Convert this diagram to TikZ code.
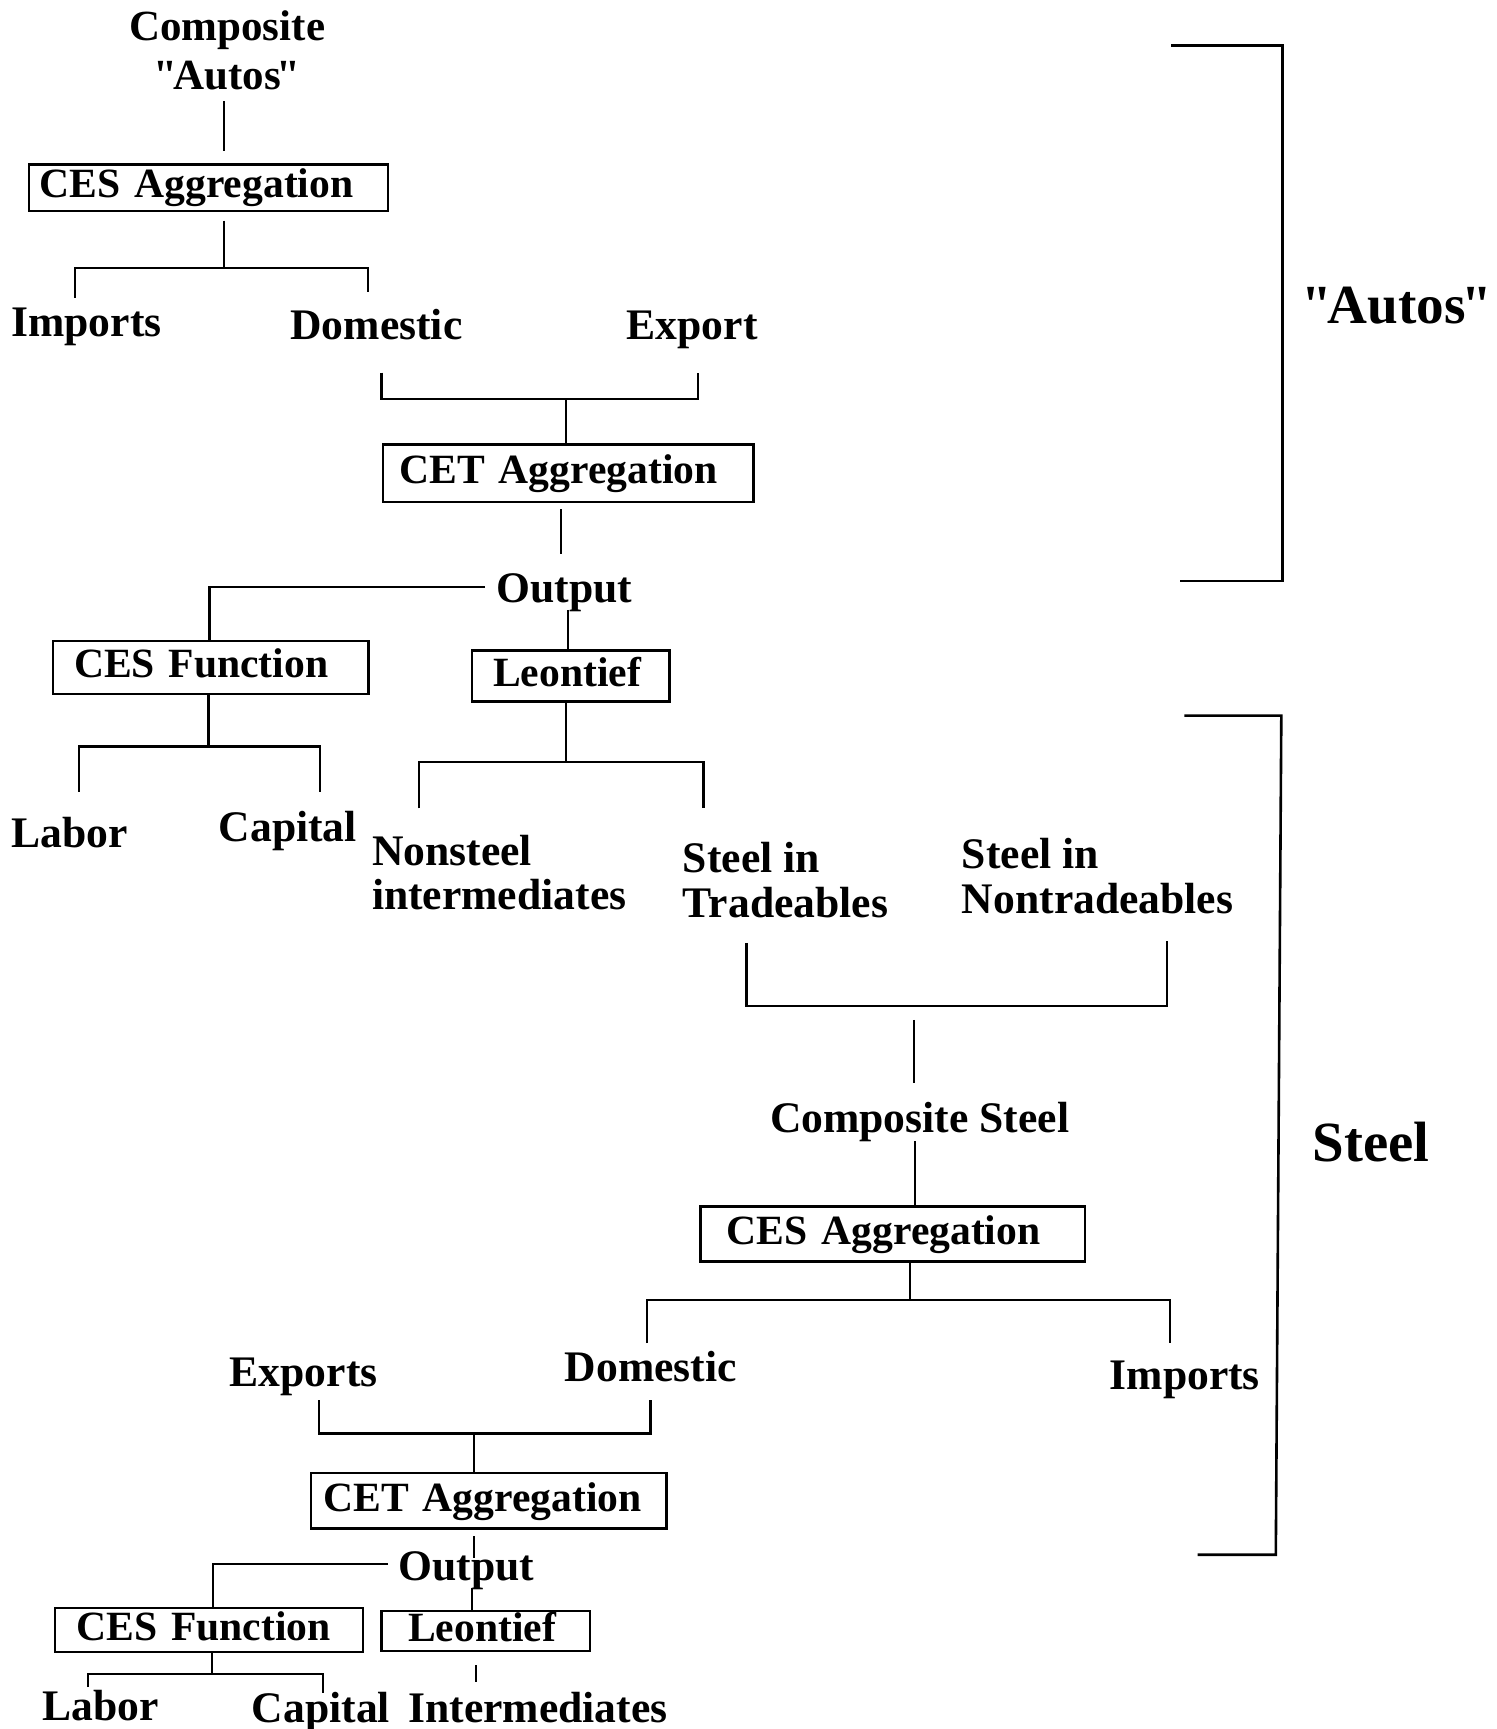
\documentclass[tikz,border=0pt]{standalone}
\usepackage{fontspec}
\setmainfont{Liberation Serif}[Ligatures=TeXOff]
\newcommand{\sq}{\char34\relax}
\begin{document}
\begin{tikzpicture}[x=0.5512pt,y=-0.5512pt,
  txt/.style={inner sep=0pt, font=\fontsize{21.8}{22}\selectfont\bfseries},
  box/.style={draw, line width=1.2pt, inner ysep=0pt, text height=14.2pt, text depth=3.9pt,
    align=left, anchor=north west, font=\fontsize{20.8}{22}\selectfont\bfseries},
  conn/.style={line width=1.1pt},
  big/.style={inner sep=0pt, font=\fontsize{28.4}{30}\selectfont\bfseries}]
\useasboundingbox (0,0) rectangle (1357,1568);

% ---------- text nodes ----------
\node[txt, anchor=north, align=center, font=\fontsize{21.5}{24.8}\selectfont\bfseries] (compA) at (206,9) {Composite\\\sq\kern-.1em Autos\kern-.1em\sq};
\node[txt, anchor=base west] (impA) at (10,305) {Imports};
\node[txt, anchor=base west] (domA) at (263,308) {Domestic};
\node[txt, anchor=base west] (expA) at (568,308) {Export};
\node[txt, anchor=base west] (outA) at (450,546) {Output};
\node[txt, anchor=base west] (labA) at (10,769) {Labor};
\node[txt, anchor=base west] (capA) at (198,763) {Capital};
\node[txt, anchor=north west, align=left] (nonst) at (337,757) {Nonsteel\\intermediates};
\node[txt, anchor=north west, align=left, font=\fontsize{21.8}{22.6}\selectfont\bfseries] (sttr) at (619,763) {Steel in\\Tradeables};
\node[txt, anchor=north west, align=left, font=\fontsize{21.8}{22.6}\selectfont\bfseries] (stnt) at (872,760) {Steel in\\Nontradeables};
\node[txt, anchor=base west] (compS) at (698,1027) {Composite Steel};
\node[txt, anchor=base west] (expS) at (208,1257) {Exports};
\node[txt, anchor=base west] (domS) at (512,1253) {Domestic};
\node[txt, anchor=base west] (impS) at (1006,1260) {Imports};
\node[txt, anchor=base west] (outS) at (361,1433) {Output};
\node[txt, anchor=base west] (labS) at (38,1560) {Labor};
\node[txt, anchor=base west] (capS) at (228,1562) {Capital};
\node[txt, anchor=base west] (intS) at (370,1562) {Intermediates};
\node[big, anchor=base west, font=\fontsize{27.6}{30}\selectfont\bfseries] (autosL) at (1180,293) {\sq\kern-.08em Autos\kern-.08em\sq};
\node[big, anchor=base west] (steelL) at (1190,1053) {Steel};

% ---------- boxes ----------
\node[box, minimum width=179.7pt, minimum height=23.15pt, inner xsep=5.5pt, text width=168.7pt] (cesA) at (25,148) {CES Aggregation};
\node[box, minimum width=185.2pt, minimum height=28.7pt, inner xsep=8.3pt, text width=168.7pt] (cetA) at (346,402) {CET Aggregation};
\node[box, minimum width=157.6pt, minimum height=26.5pt, inner xsep=10.5pt, text width=136.7pt] (cesF) at (47,580) {CES Function};
\node[box, minimum width=98.7pt, minimum height=25.4pt, inner xsep=10.5pt, text width=77.7pt] (leo) at (427,589) {Leontief};
\node[box, minimum width=192.4pt, minimum height=27.6pt, inner xsep=13.2pt, text width=165.9pt] (cesS) at (634,1093) {CES Aggregation};
\node[box, minimum width=177.5pt, minimum height=27.6pt, inner xsep=6.1pt, text width=165.4pt] (cetS) at (281,1335) {CET Aggregation};
\node[box, minimum width=153.8pt, minimum height=22.0pt, inner xsep=10.5pt, text width=132.8pt] (cesF2) at (49,1457) {CES Function};
\node[box, minimum width=104.2pt, minimum height=19.8pt, inner xsep=13.2pt, text width=77.7pt] (leo2) at (345,1460) {Leontief};

% ---------- connector coordinates ----------
\coordinate (a1) at (203,92);  \coordinate (a2) at (203,137);
\coordinate (b1) at (203,200); \coordinate (b2) at (203,243);
\coordinate (b3) at (68,270);  \coordinate (b4) at (68,243);
\coordinate (b5) at (334,243); \coordinate (b6) at (334,265);
\coordinate (c1) at (346,338); \coordinate (c2) at (346,362);
\coordinate (c3) at (633,362); \coordinate (c4) at (633,338);
\coordinate (c5) at (513,362);
\coordinate (d1) at (509,462); \coordinate (d2) at (509,502);
\coordinate (e1) at (440,532); \coordinate (e2) at (190,532);
\coordinate (f1) at (515,553);
\coordinate (g2) at (189,677);
\coordinate (g3) at (72,718);  \coordinate (g4) at (72,677);
\coordinate (g5) at (290,677); \coordinate (g6) at (290,718);
\coordinate (h2) at (513,691);
\coordinate (h3) at (380,733); \coordinate (h4) at (380,691);
\coordinate (h5) at (638,691); \coordinate (h6) at (638,733);
\coordinate (i1) at (677,855); \coordinate (i2) at (677,912);
\coordinate (i3) at (1058,912); \coordinate (i4) at (1058,853);
\coordinate (j1) at (829,925); \coordinate (j2) at (829,982);
\coordinate (k1) at (830,1035);
\coordinate (l2) at (825,1179);
\coordinate (l3) at (587,1218); \coordinate (l4) at (587,1179);
\coordinate (l5) at (1061,1179); \coordinate (l6) at (1061,1218);
\coordinate (m1) at (289,1270); \coordinate (m2) at (289,1300);
\coordinate (m3) at (590,1300); \coordinate (m4) at (590,1270);
\coordinate (m5) at (430,1300);
\coordinate (n1) at (430,1393); \coordinate (n2) at (430,1413);
\coordinate (o1) at (352,1418); \coordinate (o2) at (193,1418);
\coordinate (p1) at (428,1440);
\coordinate (q2) at (192,1518);
\coordinate (q3) at (80,1530); \coordinate (q4) at (80,1518);
\coordinate (q5) at (293,1518); \coordinate (q6) at (293,1535);
\coordinate (r1) at (432,1510); \coordinate (r2) at (432,1525);
\coordinate (s1) at (1062,41);  \coordinate (s2) at (1163,41);
\coordinate (s3) at (1163,527); \coordinate (s4) at (1070,527);
\coordinate (t1) at (1074,649); \coordinate (t2) at (1162,649);
\coordinate (t3) at (1157,1410); \coordinate (t4) at (1086,1410);

% ---------- connectors ----------
\draw[conn] (a1) -- (a2);
\draw[conn] (b1) -- (b2);
\draw[conn] (b3) -- (b4) -- (b5) -- (b6);
\draw[conn] (c1) -- (c2) -- (c3) -- (c4);
\draw[conn] (c5) -- (c5 |- cetA.north);
\draw[conn] (d1) -- (d2);
\draw[conn] (e1) -- (e2) -- (e2 |- cesF.north);
\draw[conn] (f1) -- (f1 |- leo.north);
\draw[conn] (g2 |- cesF.south) -- (g2);
\draw[conn] (g3) -- (g4) -- (g5) -- (g6);
\draw[conn] (h2 |- leo.south) -- (h2);
\draw[conn] (h3) -- (h4) -- (h5) -- (h6);
\draw[conn] (i1) -- (i2) -- (i3) -- (i4);
\draw[conn] (j1) -- (j2);
\draw[conn] (k1) -- (k1 |- cesS.north);
\draw[conn] (l2 |- cesS.south) -- (l2);
\draw[conn] (l3) -- (l4) -- (l5) -- (l6);
\draw[conn] (m1) -- (m2) -- (m3) -- (m4);
\draw[conn] (m5) -- (m5 |- cetS.north);
\draw[conn] (n1) -- (n2);
\draw[conn] (o1) -- (o2) -- (o2 |- cesF2.north);
\draw[conn] (p1) -- (p1 |- leo2.north);
\draw[conn] (q2 |- cesF2.south) -- (q2);
\draw[conn] (q3) -- (q4) -- (q5) -- (q6);
\draw[conn] (r1) -- (r2);
\draw[conn, line width=1.3pt] (s1) -- (s2) -- (s3) -- (s4);
\draw[conn, line width=1.3pt] (t1) -- (t2) -- (t3) -- (t4);
\end{tikzpicture}
\end{document}
